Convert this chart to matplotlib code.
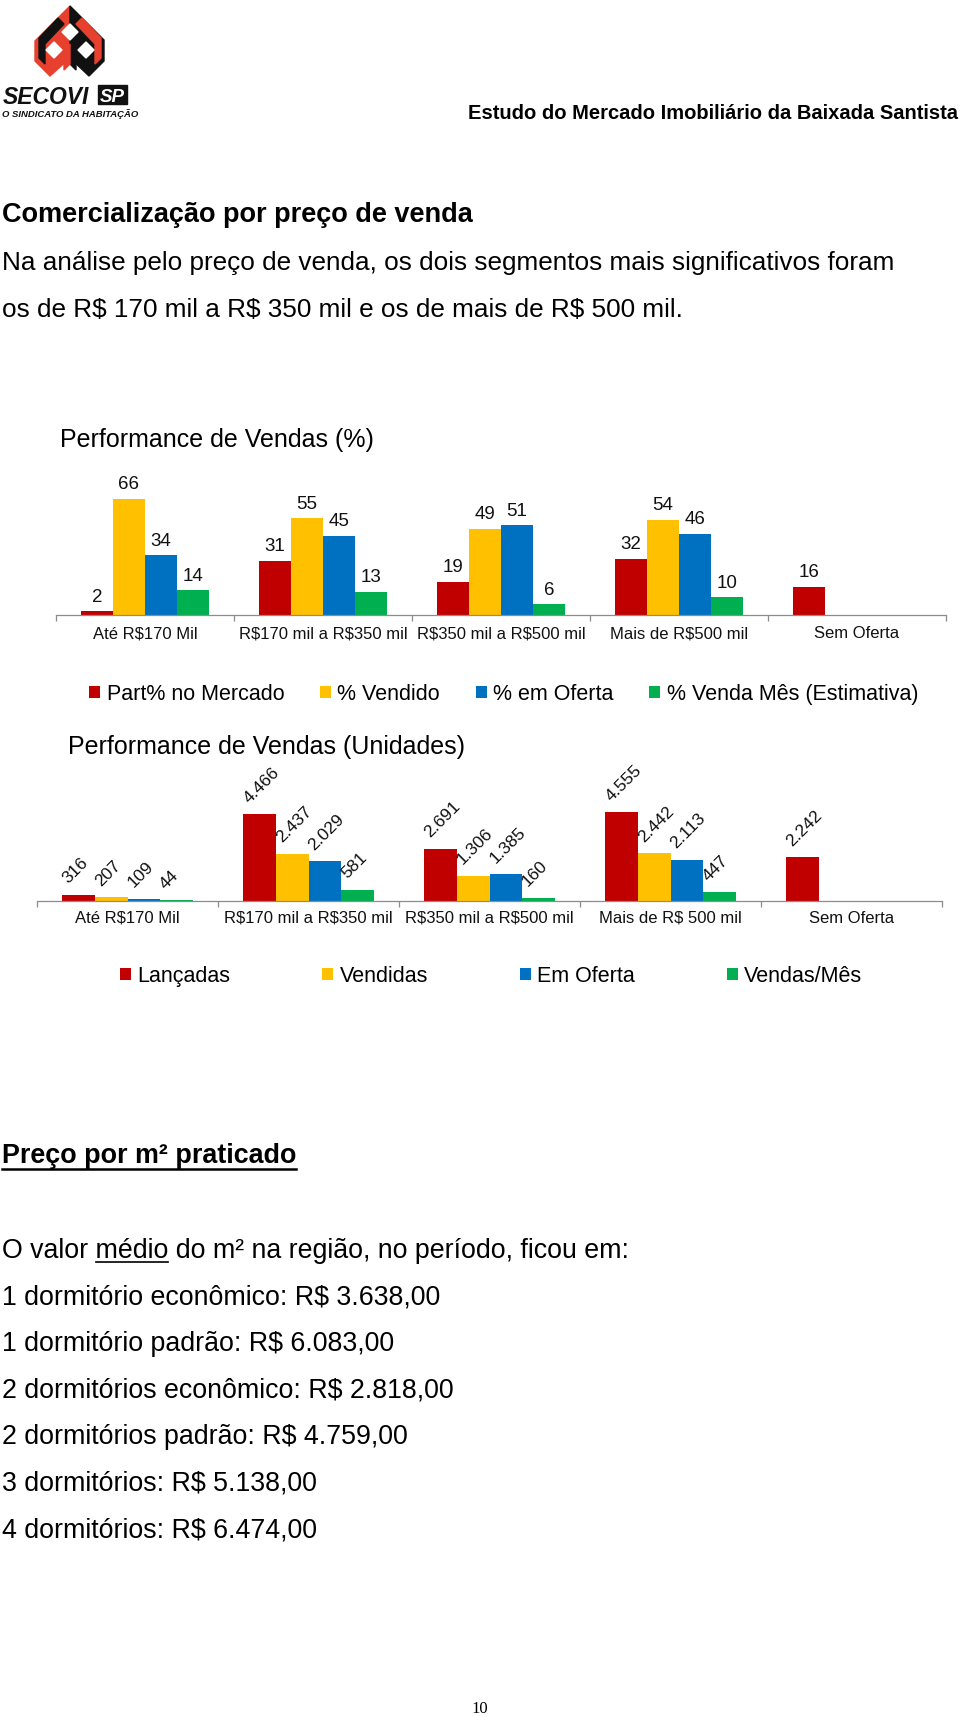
import numpy as np
import matplotlib
matplotlib.use("Agg")
import matplotlib.pyplot as plt
from matplotlib import font_manager
from matplotlib.patches import Polygon, Rectangle
from matplotlib.lines import Line2D

plt.rcParams["text.parse_math"] = False
plt.rcParams["font.family"] = ["Liberation Sans", "DejaVu Sans"]

W, H = 960, 1717

# ---- dados ----
cat_pct = ["Até R$170 Mil", "R$170 mil a R$350 mil", "R$350 mil a R$500 mil",
           "Mais de R$500 mil", "Sem Oferta"]
part_mercado = [2, 31, 19, 32, 16]
pct_vendido = [66, 55, 49, 54, None]
pct_oferta = [34, 45, 51, 46, None]
pct_venda_mes = [14, 13, 6, 10, None]
nomes_pct = ["Part% no Mercado", "% Vendido", "% em Oferta", "% Venda Mês (Estimativa)"]

cat_un = ["Até R$170 Mil", "R$170 mil a R$350 mil", "R$350 mil a R$500 mil",
          "Mais de R$ 500 mil", "Sem Oferta"]
lancadas = [316, 4466, 2691, 4555, 2242]
vendidas = [207, 2437, 1306, 2442, None]
em_oferta = [109, 2029, 1385, 2113, None]
vendas_mes = [44, 581, 160, 447, None]
nomes_un = ["Lançadas", "Vendidas", "Em Oferta", "Vendas/Mês"]

tipologias = ["1 dormitório econômico", "1 dormitório padrão", "2 dormitórios econômico",
              "2 dormitórios padrão", "3 dormitórios", "4 dormitórios"]
valores_m2 = [3638, 6083, 2818, 4759, 5138, 6474]

cores = ["#C00000", "#FFC000", "#0070C0", "#00B050"]


def has_font(name):
    try:
        font_manager.findfont(font_manager.FontProperties(family=name), fallback_to_default=False)
        return True
    except Exception:
        return False


NARROW = "Liberation Sans Narrow" if has_font("Liberation Sans Narrow") else "Liberation Sans"


def br(v):
    return f"{v:,}".replace(",", ".")


def fx(x):
    return x / W


def fy(y):
    return 1 - y / H


fig = plt.figure(figsize=(W / 100, H / 100), dpi=100)


def put(x, y, s, **kw):
    kw.setdefault("va", "baseline")
    return fig.text(fx(x), fy(y), s, **kw)


# ---- logo ----
lg = fig.add_axes([0, fy(122), fx(132), 122 / H])
lg.set_xlim(0, 132)
lg.set_ylim(122, 0)
lg.axis("off")
lg.add_patch(Polygon([(70, 6), (35, 41), (35, 61), (50, 76), (70, 58)], color="#E8402F"))
lg.add_patch(Polygon([(70, 6), (104, 40), (104, 61), (89, 76), (70, 58)], color="#111111"))
lg.add_patch(Polygon([(58, 18), (64, 24), (45, 44), (45, 64), (39, 58), (39, 38)], color="#111111"))
lg.add_patch(Polygon([(82, 18), (76, 24), (95, 44), (95, 64), (101, 58), (101, 38)], color="#E8402F"))
lg.add_patch(Polygon([(70, 44), (76, 50), (76, 70), (70, 64)], color="#111111"))
lg.add_patch(Polygon([(70, 44), (64, 50), (64, 70), (70, 64)], color="#E8402F"))
for cx, cy in [(70, 32), (54, 50), (86, 50)]:
    lg.add_patch(Polygon([(cx, cy - 8), (cx + 8, cy), (cx, cy + 8), (cx - 8, cy)], color="white"))
lg.add_patch(Rectangle((98, 85), 29, 19, color="#111111"))
lg.text(3, 104, "SECOVI", fontsize=16.5, fontweight="bold", fontstyle="italic",
        family=NARROW, va="baseline", color="#111111")
lg.text(112.5, 101.5, "SP", fontsize=13.5, fontweight="bold", fontstyle="italic",
        family=NARROW, ha="center", va="baseline", color="white")
lg.text(2, 117, "O SINDICATO DA HABITAÇÃO", fontsize=6.8, fontweight="bold",
        fontstyle="italic", family=NARROW, va="baseline", color="#111111")

# ---- cabeçalho e textos ----
put(958, 119, "Estudo do Mercado Imobiliário da Baixada Santista", ha="right",
    fontsize=14.5, fontweight="bold")
put(2, 222, "Comercialização por preço de venda", fontsize=19.5, fontweight="bold")
put(2, 270, "Na análise pelo preço de venda, os dois segmentos mais significativos foram",
    fontsize=18.8)
put(2, 317, "os de R$ 170 mil a R$ 350 mil e os de mais de R$ 500 mil.", fontsize=18.8)


# ---- gráficos ----
def bar_chart(left, right, bottom, top, px_per_unit, cats, series, nomes, rotated):
    ax = fig.add_axes([fx(left), fy(bottom), (right - left) / W, (bottom - top) / H])
    n = len(cats)
    w = 0.18
    for i, (vals, nome, cor) in enumerate(zip(series, nomes, cores)):
        idx = [j for j, v in enumerate(vals) if v is not None]
        xs = np.array(idx) + (i - 1.5) * w
        ys = [vals[j] for j in idx]
        ax.bar(xs, ys, w, color=cor, label=nome)
        for x, y in zip(xs, ys):
            if rotated:
                ax.annotate(br(y), (x - 0.25 * w, y), xytext=(0, 6), textcoords="offset points",
                            rotation=45, rotation_mode="anchor", ha="left", va="bottom",
                            fontsize=12.5, color="#111111")
            else:
                ax.annotate(br(y), (x, y), xytext=(0, 7), textcoords="offset points",
                            ha="center", va="baseline", fontsize=13.5, color="#111111")
    ax.set_xlim(-0.5, n - 0.5)
    ax.set_ylim(0, (bottom - top) / px_per_unit)
    for s in ["top", "left", "right"]:
        ax.spines[s].set_visible(False)
    ax.spines["bottom"].set_color("#8C8C8C")
    ax.spines["bottom"].set_linewidth(0.9)
    ax.set_yticks([])
    ax.set_xticks(np.arange(n + 1) - 0.5)
    ax.set_xticklabels([])
    ax.tick_params(axis="x", which="major", length=4, color="#8C8C8C", width=0.9)
    ax.set_xticks(np.arange(n), minor=True)
    ax.set_xticklabels(cats, minor=True, fontsize=12, color="#111111")
    ax.patch.set_alpha(0)
    return ax


ax1 = bar_chart(56, 946, 615, 470, 1.758, cat_pct,
                [part_mercado, pct_vendido, pct_oferta, pct_venda_mes], nomes_pct, False)
ax1.tick_params(axis="x", which="minor", length=0, pad=8)
put(60, 447, "Performance de Vendas (%)", fontsize=18)
fig.legend(*ax1.get_legend_handles_labels(), loc="center left",
           bbox_to_anchor=(fx(89), fy(694)), ncol=4, frameon=False, fontsize=15.5,
           handlelength=0.52, handleheight=0.52, handletextpad=0.3, columnspacing=1.65,
           borderpad=0, borderaxespad=0)

ax2 = bar_chart(37, 942, 901, 760, 0.01948, cat_un,
                [lancadas, vendidas, em_oferta, vendas_mes], nomes_un, True)
ax2.tick_params(axis="x", which="minor", length=0, pad=7)
put(68, 754, "Performance de Vendas (Unidades)", fontsize=18)
fig.legend(*ax2.get_legend_handles_labels(), loc="center left",
           bbox_to_anchor=(fx(120), fy(976)), ncol=4, frameon=False, fontsize=15.5,
           handlelength=0.52, handleheight=0.52, handletextpad=0.3, columnspacing=4.25,
           borderpad=0, borderaxespad=0)

# ---- preço por m² ----
r = fig.canvas.get_renderer()


def text_width(s, **kw):
    t = fig.text(0, 0, s, **kw)
    wpx = t.get_window_extent(r).width
    t.remove()
    return wpx


def hline(x0, x1, y, lw=1.6):
    fig.add_artist(Line2D([fx(x0), fx(x1)], [fy(y), fy(y)], transform=fig.transFigure,
                          color="black", linewidth=lw))


t_title = "Preço por m² praticado"
put(2, 1163, t_title, fontsize=19.4, fontweight="bold")
hline(2, 2 + text_width(t_title, fontsize=19.4, fontweight="bold"), 1168.5, lw=1.8)

linha = "O valor médio do m² na região, no período, ficou em:"
put(2, 1257.5, linha, fontsize=19.3)
x_end = 2 + text_width("O valor médio", fontsize=19.3)
x_start = x_end - text_width("médio", fontsize=19.3)
hline(x_start, x_end, 1261.5, lw=1.2)

for k, (tip, val) in enumerate(zip(tipologias, valores_m2)):
    put(2, 1304 + k * 46.7, f"{tip}: R$ {br(val)},00", fontsize=19.3)

put(480, 1713, "10", ha="center", fontsize=12, family=["Liberation Serif", "DejaVu Serif"])

fig.savefig("out.png", dpi=100)
